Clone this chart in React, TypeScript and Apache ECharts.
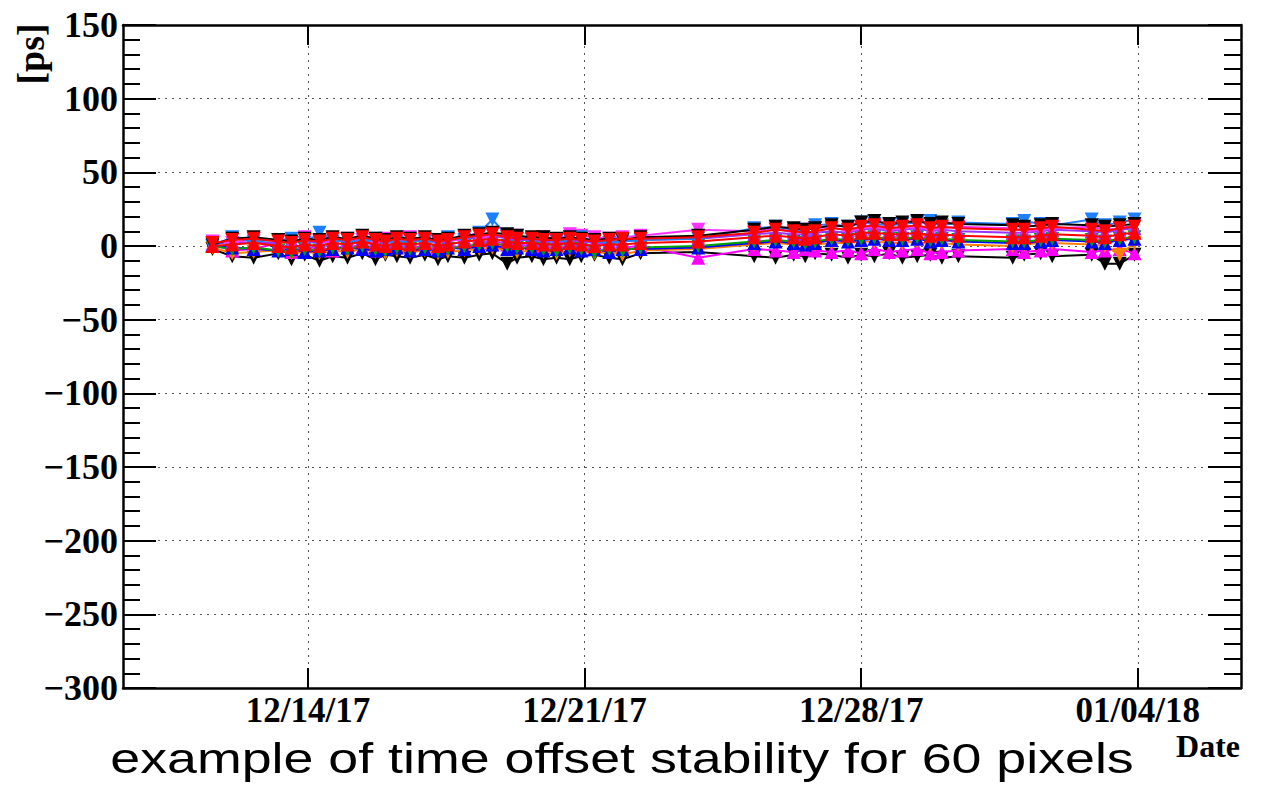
import React, { useEffect, useRef } from 'react';
import * as echarts from 'echarts';

// Measurement times
const times = [
  '2017-12-11 14:00', '2017-12-12 02:00', '2017-12-12 15:00', '2017-12-13 06:00', '2017-12-13 14:00',
  '2017-12-13 22:00', '2017-12-14 07:00', '2017-12-14 15:00', '2017-12-15 00:00', '2017-12-15 09:00',
  '2017-12-15 17:00', '2017-12-15 23:00', '2017-12-16 06:00', '2017-12-16 14:00', '2017-12-16 23:00',
  '2017-12-17 07:00', '2017-12-17 13:00', '2017-12-17 23:00', '2017-12-18 08:00', '2017-12-18 16:00',
  '2017-12-19 01:00', '2017-12-19 07:00', '2017-12-19 16:00', '2017-12-19 23:00', '2017-12-20 07:00',
  '2017-12-20 15:00', '2017-12-20 22:00', '2017-12-21 06:00', '2017-12-21 15:00', '2017-12-21 23:00',
  '2017-12-22 10:00', '2017-12-23 21:00', '2017-12-25 07:00', '2017-12-25 20:00', '2017-12-26 07:00',
  '2017-12-26 14:00', '2017-12-26 20:00', '2017-12-27 06:00', '2017-12-27 16:00', '2017-12-28 00:00',
  '2017-12-28 08:00', '2017-12-28 17:00', '2017-12-29 01:00', '2017-12-29 10:00', '2017-12-29 18:00',
  '2017-12-30 01:00', '2017-12-30 11:00', '2017-12-31 20:00', '2018-01-01 03:00', '2018-01-01 13:00',
  '2018-01-01 20:00', '2018-01-02 20:00', '2018-01-03 04:00', '2018-01-03 13:00', '2018-01-03 22:00',
];

// Time offsets [ps] per pixel group
const blackLo = [
  -2, -7, -8, -5, -9, -6, -10, -7, -8, -5, -9, -6, -7, -8, -6, -9, -7, -8, -6, -5,
  -12, -8, -7, -9, -8, -9, -7, -6, -8, -9, -5,
  -4, -7, -8, -6, -7, -5, -6, -8, -6, -7, -5, -8, -7, -6, -8, -7, -8, -6, -5, -7, -6, -12, -12, -6,
];
const magenta = [
  1, -3, -2, 2, -4, 0, -2, -3, 1, -1, -3, -2, 0, 1, -2, -1, 1, -2, 2, 4,
  1, 2, -1, 0, 3, 2, 0, 1, 2, -1, 0,
  -8, -2, -3, -4, -2, -3, -4, -3, -5, -2, -4, -3, -2, -5, -4, -3, -2, -4, -3, -2, -4, -3, -2, -5,
];
const pink = [
  3, 2, 5, 4, 1, 6, 3, 2, 5, 4, 2, 5, 3, 6, 4, 2, 5, 3, 4, 8,
  6, 7, 5, 6, 4, 8, 7, 6, 5, 6, 7,
  11, 10, 12, 9, 11, 12, 13, 10, 12, 13, 11, 12, 13, 11, 12, 13, 12, 10, 11, 12, 13, 11, 12, 14,
];
const orange = [
  -1, -5, -4, -3, -5, -4, -5, -3, -4, -2, -4, -5, -3, -4, -3, -5, -4, -3, -2, -1,
  -3, -4, -3, -4, -5, -3, -4, -5, -4, -6, -3,
  -2, 1, 2, 1, 0, 1, 2, 2, 3, 3, 2, 2, 3, 1, 2, 1, 0, 1, 2, 2, 1, 0, -6, 2,
];
const blue = [
  0, -1, -2, -3, -2, -4, -3, -2, -1, -2, -3, -2, -1, -3, -2, -3, -1, -2, 0, 1,
  -2, -1, -2, -3, -2, -1, -3, -2, -4, -2, -2,
  -1, 2, 3, 2, 1, 2, 4, 3, 4, 5, 4, 4, 5, 3, 4, 3, 2, 2, 3, 4, 3, 2, 4, 5,
];
const green = [
  0, -2, -1, -3, -4, -2, -3, -1, -2, 0, -2, -3, -1, -2, -1, -3, -2, 0, 1, 2,
  0, -1, -1, -2, -3, -1, -2, -4, -2, -3, -1,
  0, 3, 4, 3, 2, 3, 5, 4, 5, 6, 5, 5, 6, 4, 5, 4, 3, 3, 4, 5, 4, 3, 5, 6,
];
const purple = [
  1, 3, 2, 2, 4, 3, 2, 4, 3, 5, 3, 2, 4, 3, 4, 2, 3, 5, 6, 7,
  5, 4, 4, 3, 3, 4, 3, 2, 3, 3, 4,
  5, 8, 9, 8, 8, 9, 10, 9, 11, 12, 10, 11, 12, 10, 11, 10, 9, 9, 10, 11, 10, 9, 11, 12,
];
const azure = [
  0, 6, 3, 4, 5, 2, 9, 3, 4, 2, 5, 3, 2, 4, 3, 3, 6, 4, 9, 18,
  7, 6, 4, 5, 3, 4, 6, 3, 2, 3, 4,
  5, 12, 13, 11, 10, 14, 15, 13, 16, 15, 14, 15, 16, 17, 14, 16, 15, 17, 15, 14, 18, 14, 16, 18,
];
const blackHi = [
  1, 5, 6, 4, 3, 5, 4, 6, 5, 7, 5, 4, 6, 5, 6, 4, 5, 7, 8, 9,
  8, 7, 6, 6, 5, 6, 5, 4, 5, 4, 6,
  7, 11, 13, 12, 11, 12, 14, 13, 16, 17, 15, 16, 17, 15, 16, 15, 14, 13, 14, 15, 14, 13, 14, 15,
];
const red2 = [
  0, 1, 2, 0, -1, 1, 0, 2, 1, 3, 1, 0, 2, 1, 2, 0, 1, 3, 4, 5,
  3, 2, 2, 1, 1, 2, 1, 0, 1, 1, 2,
  3, 6, 7, 6, 5, 6, 8, 7, 9, 9, 8, 8, 9, 7, 8, 7, 6, 6, 7, 8, 7, 6, 8, 9,
];
const redHi = [
  2, 4, 5, 3, 2, 4, 3, 5, 4, 6, 4, 3, 5, 4, 5, 3, 4, 6, 7, 8,
  6, 5, 5, 4, 4, 5, 4, 3, 4, 5, 5,
  6, 9, 11, 10, 9, 10, 12, 11, 13, 14, 12, 13, 14, 12, 13, 12, 11, 11, 12, 13, 11, 10, 12, 13,
];

const seriesDefs = [
  { name: 'pixel group 1', values: blackLo, color: '#000000', up: false },
  { name: 'pixel group 2', values: magenta, color: '#ff00ff', up: true },
  { name: 'pixel group 3', values: orange, color: '#ff8000', up: false },
  { name: 'pixel group 4', values: blue, color: '#0000ff', up: true },
  { name: 'pixel group 5', values: green, color: '#00a000', up: false },
  { name: 'pixel group 6', values: purple, color: '#9933ff', up: true },
  { name: 'pixel group 7', values: pink, color: '#ff33ff', up: false },
  { name: 'pixel group 8', values: azure, color: '#1e7fff', up: false },
  { name: 'pixel group 9', values: blackHi, color: '#000000', up: false },
  { name: 'pixel group 10', values: red2, color: '#ff0000', up: true },
  { name: 'pixel group 11', values: redHi, color: '#ff0000', up: false },
];

const weekTicks = ['2017-12-14 00:00', '2017-12-21 00:00', '2017-12-28 00:00', '2018-01-04 00:00'];
const xMin = '2017-12-09 07:40';
const xMax = '2018-01-06 14:40';
const yMin = -300;
const yMax = 150;
const yStep = 50;

const serif = '"Liberation Serif", "Times New Roman", serif';

function parseT(s: string): number {
  const [d, t] = s.split(' ');
  const [y, m, dd] = d.split('-').map(Number);
  const [h, mi] = (t || '00:00').split(':').map(Number);
  return new Date(y, m - 1, dd, h, mi).getTime();
}

function fmtDate(v: number): string {
  const d = new Date(v);
  const p = (n: number) => (n < 10 ? '0' + n : '' + n);
  return p(d.getMonth() + 1) + '/' + p(d.getDate()) + '/' + p(d.getFullYear() % 100);
}

export default function App() {
  const ref = useRef<HTMLDivElement>(null);
  useEffect(() => {
    if (!ref.current) return;
    const chart = echarts.init(ref.current, null, { renderer: 'svg' });
    const tickVals = weekTicks.map(parseT);
    const gridLine = { show: true, lineStyle: { color: '#555', width: 1, type: [2, 5] as any } };
    const option: any = {
      animation: false,
      backgroundColor: '#ffffff',
      grid: { left: 123, right: 27, top: 25, bottom: 97, containLabel: false, outerBoundsMode: 'none' },
      xAxis: [
        {
          type: 'value',
          position: 'bottom',
          min: parseT(xMin),
          max: parseT(xMax),
          axisLine: { show: true, onZero: false, lineStyle: { color: '#000', width: 2.5 } },
          axisTick: { show: true, inside: true, length: 20, customValues: tickVals, lineStyle: { color: '#000', width: 2 } },
          axisLabel: {
            customValues: tickVals,
            formatter: (v: number) => fmtDate(v),
            margin: 5,
            color: '#000',
            fontFamily: serif,
            fontWeight: 'bold',
            fontSize: 35,
            hideOverlap: false,
          },
          splitLine: gridLine,
        },
        {
          type: 'value',
          position: 'top',
          min: parseT(xMin),
          max: parseT(xMax),
          axisLine: { show: true, onZero: false, lineStyle: { color: '#000', width: 2.5 } },
          axisTick: { show: true, inside: true, length: 20, customValues: tickVals, lineStyle: { color: '#000', width: 2 } },
          axisLabel: { show: false, customValues: tickVals },
          splitLine: { show: false },
        },
      ],
      yAxis: [
        {
          type: 'value',
          position: 'left',
          min: yMin,
          max: yMax,
          interval: yStep,
          axisLine: { show: true, onZero: false, lineStyle: { color: '#000', width: 2.5 } },
          axisTick: { show: true, inside: true, length: 33, lineStyle: { color: '#000', width: 2 } },
          minorTick: { show: true, splitNumber: 5, length: 17, lineStyle: { color: '#000', width: 2 } },
          axisLabel: {
            formatter: (v: number) => (v < 0 ? '\u2212' + Math.abs(v) : '' + v),
            margin: 5,
            color: '#000',
            fontFamily: serif,
            fontWeight: 'bold',
            fontSize: 36,
          },
          splitLine: gridLine,
        },
        {
          type: 'value',
          position: 'right',
          min: yMin,
          max: yMax,
          interval: yStep,
          axisLine: { show: true, onZero: false, lineStyle: { color: '#000', width: 2.5 } },
          axisTick: { show: true, inside: true, length: 33, lineStyle: { color: '#000', width: 2 } },
          minorTick: { show: true, splitNumber: 5, length: 17, lineStyle: { color: '#000', width: 2 } },
          axisLabel: { show: false },
          splitLine: { show: false },
        },
      ],
      series: seriesDefs.map((s, k) => ({
        type: 'line',
        name: s.name,
        xAxisIndex: 0,
        yAxisIndex: 0,
        data: times.map((t, i) => [parseT(t), s.values[i]]),
        symbol: 'triangle',
        symbolRotate: s.up ? 0 : 180,
        symbolSize: 14,
        showSymbol: true,
        lineStyle: { color: s.color, width: 2 },
        itemStyle: { color: s.color },
        z: 2 + k * 0.01,
      })),
      graphic: [
        {
          type: 'text',
          x: 31,
          y: 54,
          rotation: Math.PI / 2,
          style: {
            text: '[ps]',
            align: 'center',
            verticalAlign: 'middle',
            font: 'bold 38px ' + serif,
            fill: '#000',
          },
        },
        {
          type: 'text',
          x: 1240,
          y: 746,
          style: {
            text: 'Date',
            align: 'right',
            verticalAlign: 'middle',
            font: 'bold 32px ' + serif,
            fill: '#000',
          },
        },
        {
          type: 'text',
          x: 622,
          y: 758,
          scaleX: 1.25,
          style: {
            text: 'example of time offset stability for 60 pixels',
            align: 'center',
            verticalAlign: 'middle',
            font: 'normal 43px "Liberation Sans", "DejaVu Sans", sans-serif',
            fill: '#000',
          },
        },
      ],
    };
    chart.setOption(option);
    return () => chart.dispose();
  }, []);
  return (
    <div
      ref={ref}
      style={{ position: 'absolute', left: 0, top: 0, width: 1268, height: 785, background: '#fff' }}
    />
  );
}
